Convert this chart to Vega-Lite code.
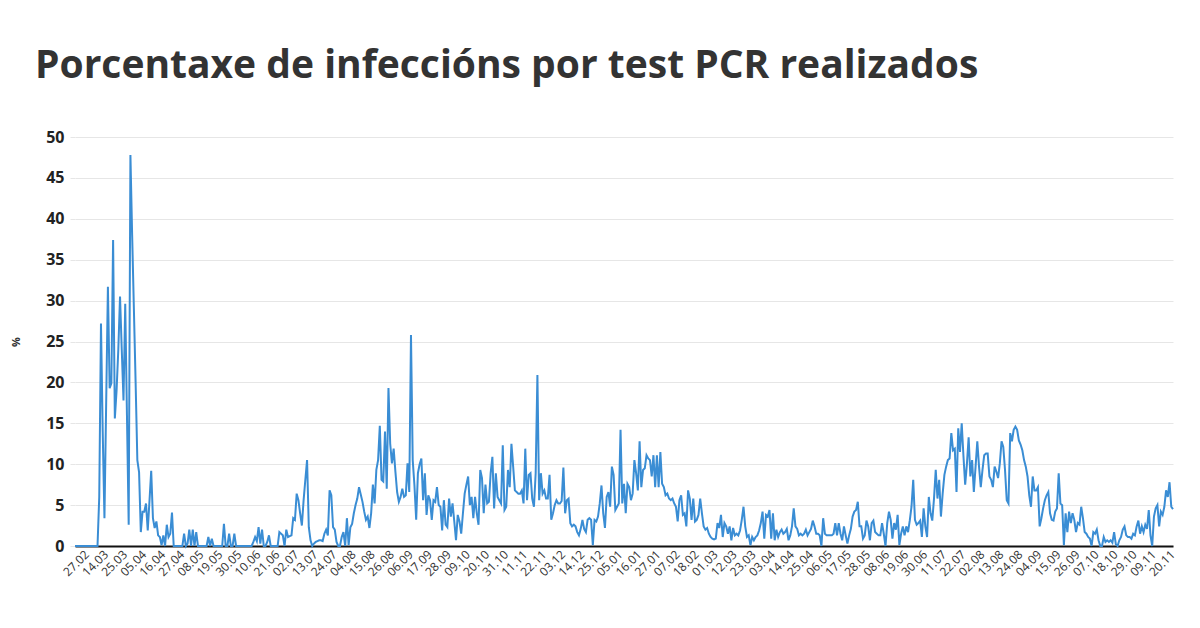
{
"$schema": "https://vega.github.io/schema/vega-lite/v6.json",
"width": 1098, "height": 409,
"autosize": {"type": "none"},
"padding": {"left": 75, "top": 137, "right": 27, "bottom": 82},
"background": "white",
"config": {"view": {"stroke": null}, "font": "Open Sans"},
"title": {"text": "Porcentaxe de infeccións por test PCR realizados", "anchor": "start", "frame": "group", "fontSize": 39, "fontWeight": 700, "color": "#333333", "font": "Open Sans", "dx": -40, "baseline": "alphabetic", "offset": 12},
"layer": [
{
"data": {"values": [
{"d":"2020-02-20","v":0},{"d":"2020-02-21","v":0},{"d":"2020-02-22","v":0},{"d":"2020-02-23","v":0},{"d":"2020-02-24","v":0},{"d":"2020-02-25","v":0},{"d":"2020-02-26","v":0},{"d":"2020-02-27","v":0},
{"d":"2020-03-04","v":0},{"d":"2020-03-05","v":0},{"d":"2020-03-06","v":0},{"d":"2020-03-07","v":0},{"d":"2020-03-08","v":0},{"d":"2020-03-09","v":0},{"d":"2020-03-10","v":6},{"d":"2020-03-11","v":27.2},{"d":"2020-03-12","v":14},{"d":"2020-03-13","v":3.4},
{"d":"2020-03-14","v":17.5},{"d":"2020-03-15","v":31.7},{"d":"2020-03-16","v":19.3},{"d":"2020-03-17","v":19.9},{"d":"2020-03-18","v":37.4},{"d":"2020-03-19","v":15.6},{"d":"2020-03-20","v":19},{"d":"2020-03-21","v":24},{"d":"2020-03-22","v":30.5},{"d":"2020-03-23","v":24},{"d":"2020-03-24","v":17.8},{"d":"2020-03-25","v":29.6},{"d":"2020-03-26","v":16},{"d":"2020-03-27","v":2.6},{"d":"2020-03-28","v":47.8},{"d":"2020-03-29","v":38},{"d":"2020-03-30","v":29},{"d":"2020-03-31","v":20},
{"d":"2020-04-01","v":10.5},{"d":"2020-04-02","v":9},{"d":"2020-04-03","v":1.7},{"d":"2020-04-04","v":4.2},{"d":"2020-04-05","v":4.2},{"d":"2020-04-06","v":5.2},{"d":"2020-04-07","v":1.9},{"d":"2020-04-08","v":5.5},{"d":"2020-04-09","v":9.2},{"d":"2020-04-10","v":3.4},{"d":"2020-04-11","v":2.2},{"d":"2020-04-12","v":3},{"d":"2020-04-13","v":1.3},{"d":"2020-04-14","v":1.1},{"d":"2020-04-15","v":0.1},{"d":"2020-04-16","v":1.3},{"d":"2020-04-17","v":0},{"d":"2020-04-18","v":2.6},{"d":"2020-04-19","v":1.1},{"d":"2020-04-20","v":1.5},{"d":"2020-04-21","v":4.1},{"d":"2020-04-22","v":0},{"d":"2020-04-23","v":0},{"d":"2020-04-24","v":0},{"d":"2020-04-25","v":0},{"d":"2020-04-26","v":0},{"d":"2020-04-27","v":0},{"d":"2020-04-28","v":1.5},{"d":"2020-04-29","v":0},{"d":"2020-04-30","v":0.3},
{"d":"2020-05-01","v":2},{"d":"2020-05-02","v":0},{"d":"2020-05-03","v":2},{"d":"2020-05-04","v":0},{"d":"2020-05-05","v":1.7},{"d":"2020-05-06","v":0},{"d":"2020-05-07","v":0},{"d":"2020-05-08","v":0},{"d":"2020-05-09","v":0},{"d":"2020-05-10","v":0},{"d":"2020-05-11","v":0},{"d":"2020-05-12","v":1.1},{"d":"2020-05-13","v":0},{"d":"2020-05-14","v":0.9},{"d":"2020-05-15","v":0},{"d":"2020-05-16","v":0},{"d":"2020-05-17","v":0},{"d":"2020-05-18","v":0},{"d":"2020-05-19","v":0},{"d":"2020-05-20","v":0},{"d":"2020-05-21","v":2.7},{"d":"2020-05-22","v":0},{"d":"2020-05-23","v":0},{"d":"2020-05-24","v":1.5},{"d":"2020-05-25","v":0},{"d":"2020-05-26","v":0},{"d":"2020-05-27","v":1.5},{"d":"2020-05-28","v":0},{"d":"2020-05-29","v":0},{"d":"2020-05-30","v":0},{"d":"2020-05-31","v":0},
{"d":"2020-06-01","v":0},{"d":"2020-06-02","v":0},{"d":"2020-06-03","v":0},{"d":"2020-06-04","v":0},{"d":"2020-06-05","v":0},{"d":"2020-06-06","v":0},{"d":"2020-06-07","v":0.5},{"d":"2020-06-08","v":1.1},{"d":"2020-06-09","v":0.6},{"d":"2020-06-10","v":2.3},{"d":"2020-06-11","v":0.3},{"d":"2020-06-12","v":2},{"d":"2020-06-13","v":0},{"d":"2020-06-14","v":0},{"d":"2020-06-15","v":0.5},{"d":"2020-06-16","v":1.3},{"d":"2020-06-17","v":0},{"d":"2020-06-18","v":0},{"d":"2020-06-19","v":0},{"d":"2020-06-20","v":0},{"d":"2020-06-21","v":0},{"d":"2020-06-22","v":1.7},{"d":"2020-06-23","v":1.5},{"d":"2020-06-24","v":1.3},{"d":"2020-06-25","v":0},{"d":"2020-06-26","v":2},{"d":"2020-06-27","v":1.1},{"d":"2020-06-28","v":1.2},{"d":"2020-06-29","v":1.3},{"d":"2020-06-30","v":3.4},
{"d":"2020-07-01","v":3.2},{"d":"2020-07-02","v":6.4},{"d":"2020-07-03","v":5.6},{"d":"2020-07-04","v":4},{"d":"2020-07-05","v":2.5},{"d":"2020-07-06","v":5.6},{"d":"2020-07-07","v":8.1},{"d":"2020-07-08","v":10.5},{"d":"2020-07-09","v":2.3},{"d":"2020-07-10","v":0.7},{"d":"2020-07-11","v":0},{"d":"2020-07-12","v":0.3},{"d":"2020-07-13","v":0.5},{"d":"2020-07-14","v":0.6},{"d":"2020-07-15","v":0.7},{"d":"2020-07-16","v":0.7},{"d":"2020-07-17","v":0.6},{"d":"2020-07-18","v":1.5},{"d":"2020-07-19","v":2},{"d":"2020-07-20","v":1.3},{"d":"2020-07-21","v":6.8},{"d":"2020-07-22","v":6.2},{"d":"2020-07-23","v":2.3},{"d":"2020-07-24","v":2},{"d":"2020-07-25","v":0.5},{"d":"2020-07-26","v":0},{"d":"2020-07-27","v":0},{"d":"2020-07-28","v":1.1},{"d":"2020-07-29","v":1.7},{"d":"2020-07-30","v":0},{"d":"2020-07-31","v":3.4},
{"d":"2020-08-01","v":0.1},{"d":"2020-08-02","v":2.3},{"d":"2020-08-03","v":2.7},{"d":"2020-08-04","v":4},{"d":"2020-08-05","v":5},{"d":"2020-08-06","v":5.8},{"d":"2020-08-07","v":7.2},{"d":"2020-08-08","v":6.3},{"d":"2020-08-09","v":5.4},{"d":"2020-08-10","v":4.2},{"d":"2020-08-11","v":3.2},{"d":"2020-08-12","v":3.6},{"d":"2020-08-13","v":2.2},{"d":"2020-08-14","v":4},{"d":"2020-08-15","v":7.5},{"d":"2020-08-16","v":5.2},{"d":"2020-08-17","v":9.3},{"d":"2020-08-18","v":10.5},{"d":"2020-08-19","v":14.7},{"d":"2020-08-20","v":8.1},{"d":"2020-08-21","v":7.9},{"d":"2020-08-22","v":14},{"d":"2020-08-23","v":7},{"d":"2020-08-24","v":19.3},{"d":"2020-08-25","v":12.5},{"d":"2020-08-26","v":10.1},{"d":"2020-08-27","v":11.9},{"d":"2020-08-28","v":9.1},{"d":"2020-08-29","v":6.6},{"d":"2020-08-30","v":5.4},{"d":"2020-08-31","v":6},
{"d":"2020-09-01","v":7},{"d":"2020-09-02","v":6},{"d":"2020-09-03","v":6.2},{"d":"2020-09-04","v":10.1},{"d":"2020-09-05","v":6.6},{"d":"2020-09-06","v":25.8},{"d":"2020-09-07","v":10.5},{"d":"2020-09-08","v":7.4},{"d":"2020-09-09","v":3.2},{"d":"2020-09-10","v":8.9},{"d":"2020-09-11","v":10},{"d":"2020-09-12","v":10.7},{"d":"2020-09-13","v":5.6},{"d":"2020-09-14","v":8.9},{"d":"2020-09-15","v":3.8},{"d":"2020-09-16","v":6.2},{"d":"2020-09-17","v":5.6},{"d":"2020-09-18","v":3.2},{"d":"2020-09-19","v":5.6},{"d":"2020-09-20","v":5.4},{"d":"2020-09-21","v":7.2},{"d":"2020-09-22","v":5},{"d":"2020-09-23","v":4.8},{"d":"2020-09-24","v":1.9},{"d":"2020-09-25","v":5.6},{"d":"2020-09-26","v":2.6},{"d":"2020-09-27","v":2.3},{"d":"2020-09-28","v":5.8},{"d":"2020-09-29","v":3.6},{"d":"2020-09-30","v":5.2},
{"d":"2020-10-01","v":3},{"d":"2020-10-02","v":0.7},{"d":"2020-10-03","v":3.8},{"d":"2020-10-04","v":3},{"d":"2020-10-05","v":1.5},{"d":"2020-10-06","v":4},{"d":"2020-10-07","v":6.4},{"d":"2020-10-08","v":7.5},{"d":"2020-10-09","v":8.5},{"d":"2020-10-10","v":5},{"d":"2020-10-11","v":6},{"d":"2020-10-12","v":3.4},{"d":"2020-10-13","v":6},{"d":"2020-10-14","v":4},{"d":"2020-10-15","v":2.6},{"d":"2020-10-16","v":9.3},{"d":"2020-10-17","v":8.3},{"d":"2020-10-18","v":4},{"d":"2020-10-19","v":7.5},{"d":"2020-10-20","v":5.2},{"d":"2020-10-21","v":5.4},{"d":"2020-10-22","v":8.9},{"d":"2020-10-23","v":10.9},{"d":"2020-10-24","v":4.6},{"d":"2020-10-25","v":8.9},{"d":"2020-10-26","v":6},{"d":"2020-10-27","v":5.6},{"d":"2020-10-28","v":5.2},{"d":"2020-10-29","v":12.3},{"d":"2020-10-30","v":4.4},{"d":"2020-10-31","v":4.8},
{"d":"2020-11-01","v":9.3},{"d":"2020-11-02","v":7.2},{"d":"2020-11-03","v":12.5},{"d":"2020-11-04","v":9.7},{"d":"2020-11-05","v":6.8},{"d":"2020-11-06","v":6.6},{"d":"2020-11-07","v":6.4},{"d":"2020-11-08","v":6.4},{"d":"2020-11-09","v":6.8},{"d":"2020-11-10","v":5.2},{"d":"2020-11-11","v":11.9},{"d":"2020-11-12","v":5.6},{"d":"2020-11-13","v":8.7},{"d":"2020-11-14","v":8.9},{"d":"2020-11-15","v":5.8},{"d":"2020-11-16","v":4.8},{"d":"2020-11-17","v":8.9},{"d":"2020-11-18","v":20.9},{"d":"2020-11-19","v":5.6},{"d":"2020-11-20","v":8.9},{"d":"2020-11-21","v":6.4},{"d":"2020-11-22","v":6.8},{"d":"2020-11-23","v":5.8},{"d":"2020-11-24","v":5.8},{"d":"2020-11-25","v":8.7},{"d":"2020-11-26","v":3.2},{"d":"2020-11-27","v":4},{"d":"2020-11-28","v":5},{"d":"2020-11-29","v":5.6},{"d":"2020-11-30","v":5.2},
{"d":"2020-12-01","v":5.2},{"d":"2020-12-02","v":5.5},{"d":"2020-12-03","v":9.6},{"d":"2020-12-04","v":4},{"d":"2020-12-05","v":5.6},{"d":"2020-12-06","v":5.8},{"d":"2020-12-07","v":2.8},{"d":"2020-12-08","v":2.4},{"d":"2020-12-09","v":2.6},{"d":"2020-12-10","v":2.4},{"d":"2020-12-11","v":1.7},{"d":"2020-12-12","v":1.3},{"d":"2020-12-13","v":2.1},{"d":"2020-12-14","v":3.2},{"d":"2020-12-15","v":2.1},{"d":"2020-12-16","v":1.7},{"d":"2020-12-17","v":3.2},{"d":"2020-12-18","v":3.4},{"d":"2020-12-19","v":3.2},{"d":"2020-12-20","v":0.1},{"d":"2020-12-21","v":3.2},{"d":"2020-12-22","v":3},{"d":"2020-12-23","v":3.6},{"d":"2020-12-24","v":5.2},{"d":"2020-12-25","v":7.4},{"d":"2020-12-26","v":4},{"d":"2020-12-27","v":2.2},{"d":"2020-12-28","v":6},{"d":"2020-12-29","v":6.6},{"d":"2020-12-30","v":4.8},{"d":"2020-12-31","v":9.7},
{"d":"2021-01-01","v":8.7},{"d":"2021-01-02","v":4.4},{"d":"2021-01-03","v":4.8},{"d":"2021-01-04","v":5.2},{"d":"2021-01-05","v":14.2},{"d":"2021-01-06","v":5.2},{"d":"2021-01-07","v":7.6},{"d":"2021-01-08","v":4},{"d":"2021-01-09","v":7.6},{"d":"2021-01-10","v":7.2},{"d":"2021-01-11","v":5.6},{"d":"2021-01-12","v":6.4},{"d":"2021-01-13","v":10.5},{"d":"2021-01-14","v":8.9},{"d":"2021-01-15","v":6.8},{"d":"2021-01-16","v":12.8},{"d":"2021-01-17","v":7.2},{"d":"2021-01-18","v":9.3},{"d":"2021-01-19","v":9.5},{"d":"2021-01-20","v":11.1},{"d":"2021-01-21","v":10.7},{"d":"2021-01-22","v":10.5},{"d":"2021-01-23","v":8.5},{"d":"2021-01-24","v":11.1},{"d":"2021-01-25","v":7.2},{"d":"2021-01-26","v":11.1},{"d":"2021-01-27","v":7.2},{"d":"2021-01-28","v":11.5},{"d":"2021-01-29","v":7.6},{"d":"2021-01-30","v":7.2},{"d":"2021-01-31","v":6.2},
{"d":"2021-02-01","v":6.4},{"d":"2021-02-02","v":5.8},{"d":"2021-02-03","v":5.6},{"d":"2021-02-04","v":5.8},{"d":"2021-02-05","v":5.2},{"d":"2021-02-06","v":4.8},{"d":"2021-02-07","v":3},{"d":"2021-02-08","v":5.6},{"d":"2021-02-09","v":6.2},{"d":"2021-02-10","v":3.8},{"d":"2021-02-11","v":4},{"d":"2021-02-12","v":2.4},{"d":"2021-02-13","v":6.8},{"d":"2021-02-14","v":5.8},{"d":"2021-02-15","v":3.2},{"d":"2021-02-16","v":5.8},{"d":"2021-02-17","v":3},{"d":"2021-02-18","v":3.2},{"d":"2021-02-19","v":3.8},{"d":"2021-02-20","v":5.8},{"d":"2021-02-21","v":4},{"d":"2021-02-22","v":2.4},{"d":"2021-02-23","v":2},{"d":"2021-02-24","v":2.2},{"d":"2021-02-25","v":1.5},{"d":"2021-02-26","v":1.1},{"d":"2021-02-27","v":0.9},{"d":"2021-02-28","v":0.8},
{"d":"2021-03-01","v":0.9},{"d":"2021-03-02","v":2.8},{"d":"2021-03-03","v":2.2},{"d":"2021-03-04","v":3.8},{"d":"2021-03-05","v":1.1},{"d":"2021-03-06","v":2.8},{"d":"2021-03-07","v":2.4},{"d":"2021-03-08","v":1.5},{"d":"2021-03-09","v":2.4},{"d":"2021-03-10","v":0.7},{"d":"2021-03-11","v":2.2},{"d":"2021-03-12","v":1.3},{"d":"2021-03-13","v":1.5},{"d":"2021-03-14","v":1.3},{"d":"2021-03-15","v":1.9},{"d":"2021-03-16","v":3.2},{"d":"2021-03-17","v":4.8},{"d":"2021-03-18","v":2.4},{"d":"2021-03-19","v":1.1},{"d":"2021-03-20","v":1.3},{"d":"2021-03-21","v":0.1},{"d":"2021-03-22","v":1.1},{"d":"2021-03-23","v":0.7},{"d":"2021-03-24","v":1.1},{"d":"2021-03-25","v":1.3},{"d":"2021-03-26","v":1.9},{"d":"2021-03-27","v":2.8},{"d":"2021-03-28","v":4.2},{"d":"2021-03-29","v":0.9},{"d":"2021-03-30","v":3.8},{"d":"2021-03-31","v":3.6},
{"d":"2021-04-01","v":4.4},{"d":"2021-04-02","v":0.9},{"d":"2021-04-03","v":4},{"d":"2021-04-04","v":0.7},{"d":"2021-04-05","v":2},{"d":"2021-04-06","v":1.1},{"d":"2021-04-07","v":1.7},{"d":"2021-04-08","v":2},{"d":"2021-04-09","v":1.5},{"d":"2021-04-10","v":1.7},{"d":"2021-04-11","v":2.1},{"d":"2021-04-12","v":0.7},{"d":"2021-04-13","v":1.3},{"d":"2021-04-14","v":2.4},{"d":"2021-04-15","v":4.6},{"d":"2021-04-16","v":2.4},{"d":"2021-04-17","v":2.1},{"d":"2021-04-18","v":1.3},{"d":"2021-04-19","v":1.5},{"d":"2021-04-20","v":1.3},{"d":"2021-04-21","v":1.5},{"d":"2021-04-22","v":2},{"d":"2021-04-23","v":1.3},{"d":"2021-04-24","v":1.7},{"d":"2021-04-25","v":2.1},{"d":"2021-04-26","v":3.1},{"d":"2021-04-27","v":2.4},{"d":"2021-04-28","v":1.5},{"d":"2021-04-29","v":1.5},{"d":"2021-04-30","v":1.3},
{"d":"2021-05-01","v":0},{"d":"2021-05-02","v":3.4},{"d":"2021-05-03","v":1.5},{"d":"2021-05-04","v":1.3},{"d":"2021-05-05","v":1.3},{"d":"2021-05-06","v":1.3},{"d":"2021-05-07","v":1.3},{"d":"2021-05-08","v":1.5},{"d":"2021-05-09","v":2.8},{"d":"2021-05-10","v":1.3},{"d":"2021-05-11","v":2.8},{"d":"2021-05-12","v":1.5},{"d":"2021-05-13","v":0.7},{"d":"2021-05-14","v":2.4},{"d":"2021-05-15","v":1.3},{"d":"2021-05-16","v":0.3},{"d":"2021-05-17","v":1.3},{"d":"2021-05-18","v":2.1},{"d":"2021-05-19","v":3.6},{"d":"2021-05-20","v":4.2},{"d":"2021-05-21","v":4.4},{"d":"2021-05-22","v":5.4},{"d":"2021-05-23","v":2.4},{"d":"2021-05-24","v":2.4},{"d":"2021-05-25","v":0.9},{"d":"2021-05-26","v":1.3},{"d":"2021-05-27","v":3.1},{"d":"2021-05-28","v":2.4},{"d":"2021-05-29","v":0.7},{"d":"2021-05-30","v":2.8},{"d":"2021-05-31","v":3.1},
{"d":"2021-06-01","v":1.7},{"d":"2021-06-02","v":1.5},{"d":"2021-06-03","v":1.3},{"d":"2021-06-04","v":1.3},{"d":"2021-06-05","v":2.8},{"d":"2021-06-06","v":1.5},{"d":"2021-06-07","v":0},{"d":"2021-06-08","v":2.8},{"d":"2021-06-09","v":4.2},{"d":"2021-06-10","v":3.2},{"d":"2021-06-11","v":0.9},{"d":"2021-06-12","v":2.8},{"d":"2021-06-13","v":2},{"d":"2021-06-14","v":3.8},{"d":"2021-06-15","v":0.1},{"d":"2021-06-16","v":1.5},{"d":"2021-06-17","v":2.4},{"d":"2021-06-18","v":1.3},{"d":"2021-06-19","v":2.4},{"d":"2021-06-20","v":1.7},{"d":"2021-06-21","v":3.1},{"d":"2021-06-22","v":4.8},{"d":"2021-06-23","v":8.1},{"d":"2021-06-24","v":3.2},{"d":"2021-06-25","v":2.6},{"d":"2021-06-26","v":2.8},{"d":"2021-06-27","v":3.1},{"d":"2021-06-28","v":1.1},{"d":"2021-06-29","v":4.6},{"d":"2021-06-30","v":2.4},
{"d":"2021-07-01","v":1.1},{"d":"2021-07-02","v":6},{"d":"2021-07-03","v":4},{"d":"2021-07-04","v":3.1},{"d":"2021-07-05","v":5.8},{"d":"2021-07-06","v":9.3},{"d":"2021-07-07","v":5.8},{"d":"2021-07-08","v":8.1},{"d":"2021-07-09","v":3.6},{"d":"2021-07-10","v":6.4},{"d":"2021-07-11","v":8.7},{"d":"2021-07-12","v":9.7},{"d":"2021-07-13","v":10.5},{"d":"2021-07-14","v":10.7},{"d":"2021-07-15","v":13.8},{"d":"2021-07-16","v":11.7},{"d":"2021-07-17","v":11.9},{"d":"2021-07-18","v":6.6},{"d":"2021-07-19","v":14.4},{"d":"2021-07-20","v":11.5},{"d":"2021-07-21","v":15},{"d":"2021-07-22","v":11},{"d":"2021-07-23","v":7.5},{"d":"2021-07-24","v":10},{"d":"2021-07-25","v":13.3},{"d":"2021-07-26","v":8.5},{"d":"2021-07-27","v":10.5},{"d":"2021-07-28","v":6.6},{"d":"2021-07-29","v":9.7},{"d":"2021-07-30","v":12.8},{"d":"2021-07-31","v":9.7},
{"d":"2021-08-01","v":7.2},{"d":"2021-08-02","v":9.3},{"d":"2021-08-03","v":11.1},{"d":"2021-08-04","v":11.3},{"d":"2021-08-05","v":11.3},{"d":"2021-08-06","v":8.5},{"d":"2021-08-07","v":8.1},{"d":"2021-08-08","v":7.2},{"d":"2021-08-09","v":9.7},{"d":"2021-08-10","v":9.1},{"d":"2021-08-11","v":8.3},{"d":"2021-08-12","v":10.1},{"d":"2021-08-13","v":12.8},{"d":"2021-08-14","v":12.1},{"d":"2021-08-15","v":9.3},{"d":"2021-08-16","v":5.6},{"d":"2021-08-17","v":5.2},{"d":"2021-08-18","v":13.8},{"d":"2021-08-19","v":12.8},{"d":"2021-08-20","v":14.2},{"d":"2021-08-21","v":14.6},{"d":"2021-08-22","v":14.2},{"d":"2021-08-23","v":12.9},{"d":"2021-08-24","v":12.4},{"d":"2021-08-25","v":11.7},{"d":"2021-08-26","v":10.5},{"d":"2021-08-27","v":9.7},{"d":"2021-08-28","v":8.5},{"d":"2021-08-29","v":6.2},{"d":"2021-08-30","v":4.8},{"d":"2021-08-31","v":8.5},
{"d":"2021-09-01","v":6.8},{"d":"2021-09-02","v":6.8},{"d":"2021-09-03","v":7.2},{"d":"2021-09-04","v":2.4},{"d":"2021-09-05","v":3.4},{"d":"2021-09-06","v":4.6},{"d":"2021-09-07","v":5.6},{"d":"2021-09-08","v":6.2},{"d":"2021-09-09","v":6.6},{"d":"2021-09-10","v":4},{"d":"2021-09-11","v":3.2},{"d":"2021-09-12","v":3.1},{"d":"2021-09-13","v":4.2},{"d":"2021-09-14","v":4.6},{"d":"2021-09-15","v":8.9},{"d":"2021-09-16","v":5.2},{"d":"2021-09-17","v":5},{"d":"2021-09-18","v":0.1},{"d":"2021-09-19","v":4},{"d":"2021-09-20","v":1.7},{"d":"2021-09-21","v":4.2},{"d":"2021-09-22","v":2.8},{"d":"2021-09-23","v":4},{"d":"2021-09-24","v":3.2},{"d":"2021-09-25","v":1.7},{"d":"2021-09-26","v":2.8},{"d":"2021-09-27","v":2.6},{"d":"2021-09-28","v":4.8},{"d":"2021-09-29","v":3.4},{"d":"2021-09-30","v":1.7},
{"d":"2021-10-01","v":1.5},{"d":"2021-10-02","v":1.1},{"d":"2021-10-03","v":0.9},{"d":"2021-10-04","v":0},{"d":"2021-10-05","v":1.7},{"d":"2021-10-06","v":1.5},{"d":"2021-10-07","v":2},{"d":"2021-10-08","v":0.7},{"d":"2021-10-09","v":0},{"d":"2021-10-10","v":0},{"d":"2021-10-11","v":1.1},{"d":"2021-10-12","v":0.5},{"d":"2021-10-13","v":0.7},{"d":"2021-10-14","v":0.5},{"d":"2021-10-15","v":0.7},{"d":"2021-10-16","v":0.4},{"d":"2021-10-17","v":1.7},{"d":"2021-10-18","v":0.2},{"d":"2021-10-19","v":0},{"d":"2021-10-20","v":0.7},{"d":"2021-10-21","v":1.1},{"d":"2021-10-22","v":2},{"d":"2021-10-23","v":2.4},{"d":"2021-10-24","v":1.3},{"d":"2021-10-25","v":1.1},{"d":"2021-10-26","v":1.1},{"d":"2021-10-27","v":0.9},{"d":"2021-10-28","v":1.5},{"d":"2021-10-29","v":1.3},{"d":"2021-10-30","v":2.4},{"d":"2021-10-31","v":3.1},
{"d":"2021-11-01","v":1.5},{"d":"2021-11-02","v":2.4},{"d":"2021-11-03","v":1.7},{"d":"2021-11-04","v":2.6},{"d":"2021-11-05","v":2.1},{"d":"2021-11-06","v":4.4},{"d":"2021-11-07","v":1.3},{"d":"2021-11-08","v":0},{"d":"2021-11-09","v":3.6},{"d":"2021-11-10","v":4.6},{"d":"2021-11-11","v":5},{"d":"2021-11-12","v":2.4},{"d":"2021-11-13","v":4.2},{"d":"2021-11-14","v":3.8},{"d":"2021-11-15","v":4.8},{"d":"2021-11-16","v":6.8},{"d":"2021-11-17","v":6},{"d":"2021-11-18","v":7.8},{"d":"2021-11-19","v":4.8},{"d":"2021-11-20","v":4.5}
]},
"mark": {"type": "line", "color": "#3a8dd4", "strokeWidth": 2},
"encoding": {
  "x": {"field": "d", "type": "ordinal", "scale": {"type": "point", "padding": 0},
    "axis": {"title": null, "labels": false, "ticks": false, "grid": false, "domainColor": "#111111", "domainWidth": 2}},
  "y": {"field": "v", "type": "quantitative", "scale": {"domain": [0, 50], "nice": false},
    "axis": {"title": "%", "titleFontSize": 11, "titleFontWeight": 700, "titleColor": "#333333", "titlePadding": 24,
      "values": [0,5,10,15,20,25,30,35,40,45,50],
      "labelFontSize": 16, "labelFontWeight": 700, "labelColor": "#222222", "labelFont": "Open Sans", "labelPadding": 6,
      "domain": false, "grid": true, "gridColor": "#e6e6e6", "tickColor": "#e6e6e6", "tickSize": 5}}
}
},
{
"data": {"values": [
{"d":"2020-02-27","lab":"27.02"},{"d":"2020-03-14","lab":"14.03"},{"d":"2020-03-25","lab":"25.03"},{"d":"2020-04-05","lab":"05.04"},{"d":"2020-04-16","lab":"16.04"},{"d":"2020-04-27","lab":"27.04"},{"d":"2020-05-08","lab":"08.05"},{"d":"2020-05-19","lab":"19.05"},{"d":"2020-05-30","lab":"30.05"},{"d":"2020-06-10","lab":"10.06"},{"d":"2020-06-21","lab":"21.06"},{"d":"2020-07-02","lab":"02.07"},{"d":"2020-07-13","lab":"13.07"},{"d":"2020-07-24","lab":"24.07"},{"d":"2020-08-04","lab":"04.08"},{"d":"2020-08-15","lab":"15.08"},{"d":"2020-08-26","lab":"26.08"},{"d":"2020-09-06","lab":"06.09"},{"d":"2020-09-17","lab":"17.09"},{"d":"2020-09-28","lab":"28.09"},{"d":"2020-10-09","lab":"09.10"},{"d":"2020-10-20","lab":"20.10"},{"d":"2020-10-31","lab":"31.10"},{"d":"2020-11-11","lab":"11.11"},{"d":"2020-11-22","lab":"22.11"},{"d":"2020-12-03","lab":"03.12"},{"d":"2020-12-14","lab":"14.12"},{"d":"2020-12-25","lab":"25.12"},{"d":"2021-01-05","lab":"05.01"},{"d":"2021-01-16","lab":"16.01"},{"d":"2021-01-27","lab":"27.01"},{"d":"2021-02-07","lab":"07.02"},{"d":"2021-02-18","lab":"18.02"},{"d":"2021-03-01","lab":"01.03"},{"d":"2021-03-12","lab":"12.03"},{"d":"2021-03-23","lab":"23.03"},{"d":"2021-04-03","lab":"03.04"},{"d":"2021-04-14","lab":"14.04"},{"d":"2021-04-25","lab":"25.04"},{"d":"2021-05-06","lab":"06.05"},{"d":"2021-05-17","lab":"17.05"},{"d":"2021-05-28","lab":"28.05"},{"d":"2021-06-08","lab":"08.06"},{"d":"2021-06-19","lab":"19.06"},{"d":"2021-06-30","lab":"30.06"},{"d":"2021-07-11","lab":"11.07"},{"d":"2021-07-22","lab":"22.07"},{"d":"2021-08-02","lab":"02.08"},{"d":"2021-08-13","lab":"13.08"},{"d":"2021-08-24","lab":"24.08"},{"d":"2021-09-04","lab":"04.09"},{"d":"2021-09-15","lab":"15.09"},{"d":"2021-09-26","lab":"26.09"},{"d":"2021-10-07","lab":"07.10"},{"d":"2021-10-18","lab":"18.10"},{"d":"2021-10-29","lab":"29.10"},{"d":"2021-11-09","lab":"09.11"},{"d":"2021-11-20","lab":"20.11"}
]},
"mark": {"type": "text", "angle": 315, "align": "right", "baseline": "middle", "fontSize": 12, "color": "#333333", "font": "Open Sans"},
"encoding": {
  "x": {"field": "d", "type": "ordinal"},
  "y": {"datum": -0.8, "type": "quantitative"},
  "text": {"field": "lab"}
}
}
]
}
